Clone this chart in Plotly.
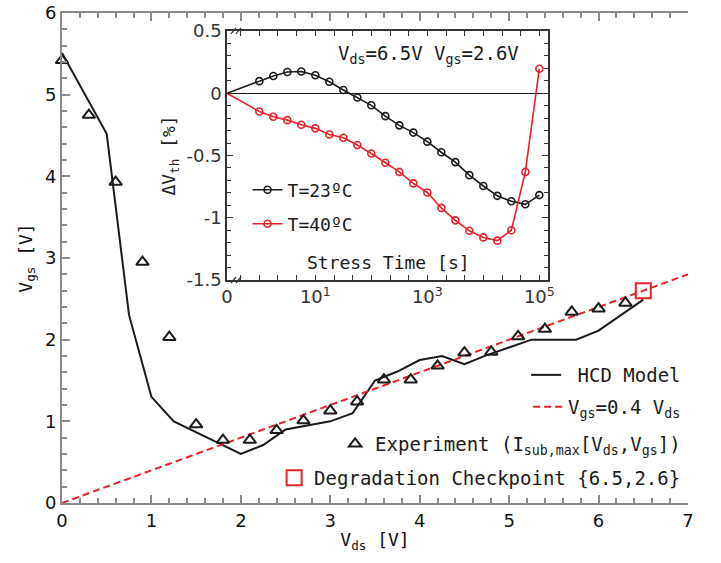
import plotly.graph_objects as go

# ---------------- main chart data ----------------
exp_vds = [0.0, 0.3, 0.6, 0.9, 1.2, 1.5, 1.8, 2.1, 2.4, 2.7, 3.0,
           3.3, 3.6, 3.9, 4.2, 4.5, 4.8, 5.1, 5.4, 5.7, 6.0, 6.3]
exp_vgs = [5.42, 4.75, 3.93, 2.95, 2.03, 0.96, 0.77, 0.77, 0.89, 1.01, 1.13,
           1.24, 1.51, 1.51, 1.68, 1.84, 1.85, 2.04, 2.13, 2.34, 2.38, 2.45]
model_vds = [0.0, 0.5, 0.75, 1.0, 1.25, 2.0, 2.25, 2.5, 3.0, 3.25, 3.5,
             3.75, 4.0, 4.25, 4.5, 4.75, 5.25, 5.75, 6.0, 6.5]
model_vgs = [5.51, 4.52, 2.30, 1.30, 1.00, 0.60, 0.71, 0.90, 1.00, 1.10, 1.50,
             1.61, 1.75, 1.80, 1.70, 1.81, 2.00, 2.00, 2.11, 2.49]
ratio_vds = [0.0, 7.0]
ratio_k = 0.4
check_vds = [6.5]
check_vgs = [2.6]

# ---------------- inset data ----------------
# stress time as log10(t) ; t = 0 is drawn at the axis origin
stress_log10 = [0.0, 0.25, 0.5, 0.75, 1.0, 1.25, 1.5, 1.75, 2.0, 2.25, 2.5,
                2.75, 3.0, 3.25, 3.5, 3.75, 4.0, 4.25, 4.5, 4.75, 5.0]
dvth_23 = [0.097, 0.139, 0.171, 0.174, 0.145, 0.092, 0.026, -0.034, -0.097, -0.184,
           -0.258, -0.316, -0.389, -0.474, -0.553, -0.658, -0.745, -0.824, -0.868,
           -0.892, -0.818]
dvth_40 = [-0.147, -0.189, -0.216, -0.253, -0.282, -0.332, -0.358, -0.416, -0.484,
           -0.558, -0.632, -0.724, -0.797, -0.921, -1.021, -1.105, -1.158, -1.184,
           -1.100, -0.632, 0.197]
zero_pos = -0.577          # position of the broken-axis "0"
inset_xmax = 5.155

BLACK = "#1a1a1a"
RED = "#e8202a"
GRAY = "#8a8a8a"
MONO = "DejaVu Sans Mono"
SANS = "DejaVu Sans"

fig = go.Figure()

# main traces
fig.add_trace(go.Scatter(x=model_vds, y=model_vgs, mode="lines", name=" HCD Model",
                         line=dict(color=BLACK, width=2), legend="legend"))
fig.add_trace(go.Scatter(x=ratio_vds, y=[ratio_k * v for v in ratio_vds], mode="lines",
                         name="V<sub>gs</sub>=0.4 V<sub>ds</sub>",
                         line=dict(color=RED, width=2, dash="7px,4px"), legend="legend2"))
fig.add_trace(go.Scatter(x=exp_vds, y=exp_vgs, mode="markers",
                         name="Experiment (I<sub>sub,max</sub>[V<sub>ds</sub>,V<sub>gs</sub>])",
                         marker=dict(symbol="triangle-up-open", size=11, color=BLACK,
                                     line=dict(width=2)),
                         cliponaxis=False, legend="legend3"))
fig.add_trace(go.Scatter(x=check_vds, y=check_vgs, mode="markers",
                         name="Degradation Checkpoint {6.5,2.6}",
                         marker=dict(symbol="square-open", size=15, color=RED,
                                     line=dict(width=2)),
                         cliponaxis=False, legend="legend4"))

# inset traces
for vals, col, nm, lg in [(dvth_23, BLACK, "T=23ºC", "legend5"),
                          (dvth_40, RED, "T=40ºC", "legend6")]:
    fig.add_trace(go.Scatter(x=[zero_pos, stress_log10[0]], y=[0.0, vals[0]],
                             mode="lines", line=dict(color=col, width=1.6),
                             showlegend=False, xaxis="x2", yaxis="y2"))
    fig.add_trace(go.Scatter(x=stress_log10, y=vals, mode="lines+markers", name=nm,
                             line=dict(color=col, width=1.6),
                             marker=dict(symbol="circle-open", size=7, color=col,
                                         line=dict(width=1.6)),
                             xaxis="x2", yaxis="y2", legend=lg))

axis_common = dict(showgrid=False, zeroline=False, ticks="inside", automargin=False)

fig.update_layout(
    width=721, height=563, autosize=False,
    margin=dict(l=62, r=33, t=13, b=60),
    paper_bgcolor="white", plot_bgcolor="white",
    xaxis=dict(**axis_common, range=[0, 7], tickvals=[0, 1, 2, 3, 4, 5, 6, 7],
               ticklen=8, tickwidth=1.5, tickcolor=GRAY,
               minor=dict(dtick=0.2, ticklen=5, tickwidth=1.5, tickcolor=GRAY, ticks="inside"),
               showline=True, linecolor=GRAY, linewidth=2, mirror="ticks",
               tickfont=dict(family=SANS, size=18, color="#111"),
               title=dict(text="V<sub>ds</sub> [V]", font=dict(family=MONO, size=18, color="#111"),
                          standoff=4)),
    yaxis=dict(**axis_common, range=[0, 6], tickvals=[0, 1, 2, 3, 4, 5, 6],
               ticklen=8, tickwidth=1.5, tickcolor=GRAY,
               minor=dict(dtick=0.2, ticklen=5, tickwidth=1.5, tickcolor=GRAY, ticks="inside"),
               showline=True, linecolor=GRAY, linewidth=2,
               tickfont=dict(family=SANS, size=18, color="#111"),
               title=dict(text="V<sub>gs</sub> [V]", font=dict(family=MONO, size=18, color="#111"),
                          standoff=8)),
    yaxis3=dict(**axis_common, range=[0, 6], overlaying="y", side="right", anchor="x",
                tickvals=[0, 1, 2, 3, 4, 5, 6], showticklabels=False,
                ticklen=8, tickwidth=1.5, tickcolor=BLACK,
                minor=dict(dtick=0.2, ticklen=5, tickwidth=1.5, tickcolor="#555", ticks="inside"),
                showline=True, linecolor=BLACK, linewidth=2),
    xaxis2=dict(showgrid=False, zeroline=False, ticks="inside", automargin=False,
                domain=[0.2636, 0.7764], anchor="y2", range=[zero_pos, inset_xmax],
                tickvals=[zero_pos, 1, 3, 5],
                ticktext=["0", "10<sup>1</sup>", "10<sup>3</sup>", "10<sup>5</sup>"],
                ticklen=5, tickcolor="#333",
                minor=dict(tick0=0, dtick=1 / 3, ticklen=5, tickcolor="#333", ticks="inside"),
                showline=True, linecolor="#333", linewidth=1.5, mirror="ticks",
                tickfont=dict(family=SANS, size=18, color="#333")),
    yaxis2=dict(showgrid=False, ticks="inside", automargin=False,
                domain=[0.4551, 0.9633], anchor="x2", range=[-1.5, 0.5],
                tickvals=[-1.5, -1, -0.5, 0, 0.5], ticktext=["-1.5", "-1", "-0.5", "0", "0.5"],
                ticklen=6, tickcolor="#333",
                minor=dict(dtick=0.1, ticklen=4, tickcolor="#333", ticks="inside"),
                showline=True, linecolor="#333", linewidth=1.5, mirror="ticks",
                zeroline=True, zerolinecolor=BLACK, zerolinewidth=1,
                tickfont=dict(family=SANS, size=18, color="#333"),
                title=dict(text="ΔV<sub>th</sub> [%]", font=dict(family=MONO, size=18, color="#222"),
                           standoff=6)),
    font=dict(family=MONO, size=19, color="#1a1a1a"),
)

def legend_box(x, y, xanchor, size=19):
    return dict(x=x, y=y, xanchor=xanchor, yanchor="middle", bgcolor="rgba(0,0,0,0)",
                borderwidth=0, font=dict(family=MONO, size=size, color="#1a1a1a"))

fig.update_layout(
    legend=legend_box(0.997, 0.2612, "right"),
    legend2=legend_box(0.997, 0.1959, "right"),
    legend3=legend_box(0.997, 0.1204, "right"),
    legend4=legend_box(0.997, 0.0510, "right"),
    legend5=legend_box(0.2964, 0.6388, "left", 18),
    legend6=legend_box(0.2964, 0.5694, "left", 18),
)

fig.add_annotation(text="V<sub>ds</sub>=6.5V V<sub>gs</sub>=2.6V", xref="paper", yref="paper",
                   x=0.5847, y=0.9143, xanchor="center", yanchor="middle", showarrow=False,
                   font=dict(family=MONO, size=19, color="#1a1a1a"))
fig.add_annotation(text="Stress Time [s]", xref="paper", yref="paper",
                   x=0.5208, y=0.4898, xanchor="center", yanchor="middle", showarrow=False,
                   font=dict(family=MONO, size=18, color="#1a1a1a"))

# broken-axis marks "//" on the inset frame
W, H = 321.0, 249.0
for yc in (0.0, 1.0):
    for off in (4.0, 9.0):
        fig.add_shape(type="line", xref="x2 domain", yref="y2 domain",
                      x0=off / W, x1=(off + 5) / W, y0=yc - 3 / H, y1=yc + 3 / H,
                      line=dict(color="#333", width=1.2))

fig.write_html("out.html")
